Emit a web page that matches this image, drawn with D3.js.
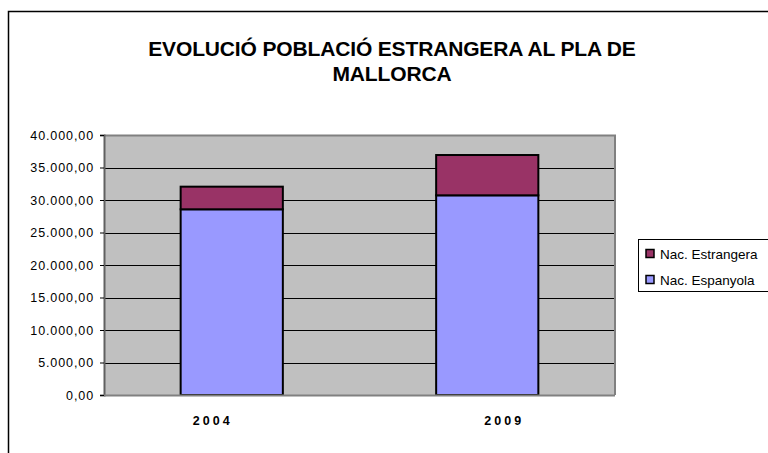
<!DOCTYPE html>
<html>
<head>
<meta charset="utf-8">
<script src="https://cdn.jsdelivr.net/npm/d3@7"></script>
<style>
  body { margin: 0; background: #fff; }
  svg { display: block; font-family: "Liberation Sans", Arial, sans-serif; }
</style>
</head>
<body>
<svg id="chart" width="768" height="453"></svg>
<script>
// data
const years = ["2004", "2009"];
const espanyola = [28570, 30720];
const estrangera = [3480, 6200];
const seriesNames = ["Nac. Espanyola", "Nac. Estrangera"];
const seriesColors = ["#9999ff", "#993366"];
const yTicks = [0, 5000, 10000, 15000, 20000, 25000, 30000, 35000, 40000];
const titleLines = ["EVOLUCIÓ POBLACIÓ ESTRANGERA AL PLA DE", "MALLORCA"];

const svg = d3.select("#chart");
const width = +svg.attr("width");
const height = +svg.attr("height");

// outer chart frame (runs off the right and bottom edges)
svg.append("rect")
  .attr("x", 8.5).attr("y", 11.5)
  .attr("width", width + 10).attr("height", height + 10)
  .attr("fill", "#fff")
  .attr("stroke", "#000")
  .attr("stroke-width", 1.5);

// title
svg.append("g")
  .selectAll("text")
  .data(titleLines)
  .join("text")
  .attr("x", 392)
  .attr("y", (d, i) => 56 + i * 24.5)
  .attr("text-anchor", "middle")
  .attr("font-size", 21)
  .attr("font-weight", "bold")
  .attr("letter-spacing", -0.15)
  .text(d => d);

const plot = { left: 104, top: 135, right: 615, bottom: 395 };

const x = d3.scaleBand()
  .domain(years)
  .range([plot.left, plot.right])
  .paddingInner(0.6)
  .paddingOuter(0.3);

const y = d3.scaleLinear()
  .domain([0, 40000])
  .range([plot.bottom, plot.top]);

// plot area
svg.append("rect")
  .attr("x", plot.left).attr("y", plot.top)
  .attr("width", plot.right - plot.left)
  .attr("height", plot.bottom - plot.top)
  .attr("fill", "#c0c0c0");

// gridlines
svg.append("g")
  .selectAll("line")
  .data(yTicks.filter(d => d > 0 && d < 40000))
  .join("line")
  .attr("x1", plot.left).attr("x2", plot.right)
  .attr("y1", d => Math.round(y(d)) + 0.5)
  .attr("y2", d => Math.round(y(d)) + 0.5)
  .attr("stroke", "#000")
  .attr("stroke-width", 1);

// frame top and right
svg.append("path")
  .attr("d", `M${plot.left},${plot.top + 0.5}H${plot.right}V${plot.bottom}`)
  .attr("fill", "none")
  .attr("stroke", "#808080")
  .attr("stroke-width", 2);

// stacked bars
const rows = years.map((yr, i) => ({ year: yr, "Nac. Espanyola": espanyola[i], "Nac. Estrangera": estrangera[i] }));
const stacked = d3.stack().keys(seriesNames)(rows);

svg.append("g")
  .selectAll("g")
  .data(stacked)
  .join("g")
  .attr("fill", (d, i) => seriesColors[i])
  .selectAll("rect")
  .data(d => d)
  .join("rect")
  .attr("x", d => x(d.data.year))
  .attr("y", d => y(d[1]))
  .attr("width", x.bandwidth())
  .attr("height", d => y(d[0]) - y(d[1]))
  .attr("stroke", "#000")
  .attr("stroke-width", 2);

// y axis
const yAxis = svg.append("g")
  .attr("transform", `translate(${plot.left},0)`)
  .call(d3.axisLeft(y)
    .tickValues(yTicks)
    .tickSize(4)
    .tickFormat(d => d3.format(",.2f")(d).replace(/,/g, "#").replace(".", ",").replace(/#/g, ".")));
yAxis.select(".domain").attr("stroke", "#606060").attr("stroke-width", 2);
yAxis.selectAll(".tick line").attr("stroke", "#000");
yAxis.selectAll(".tick text")
  .attr("x", -10)
  .attr("font-size", 12.5)
  .attr("letter-spacing", 0.9)
  .attr("font-family", "Liberation Sans, Arial, sans-serif")
  .attr("fill", "#000");

// x axis line
svg.append("line")
  .attr("x1", plot.left).attr("x2", plot.right)
  .attr("y1", plot.bottom + 0.5).attr("y2", plot.bottom + 0.5)
  .attr("stroke", "#808080")
  .attr("stroke-width", 2);

// year labels (Excel places them slightly off the bar centres)
const labelShift = [-19, 17];
svg.append("g")
  .selectAll("text")
  .data(years)
  .join("text")
  .attr("x", (d, i) => x(d) + x.bandwidth() / 2 + labelShift[i])
  .attr("y", 425)
  .attr("text-anchor", "middle")
  .attr("font-size", 12.5)
  .attr("font-weight", "bold")
  .attr("letter-spacing", 3)
  .text(d => d);

// legend
const legend = svg.append("g");
legend.append("rect")
  .attr("x", 638.5).attr("y", 239.5)
  .attr("width", 140).attr("height", 52)
  .attr("fill", "#fff")
  .attr("stroke", "#000")
  .attr("stroke-width", 1);

const legendItems = legend.selectAll("g")
  .data([1, 0])
  .join("g")
  .attr("transform", (d, i) => `translate(646,${254 + i * 26})`);
legendItems.append("rect")
  .attr("x", 0).attr("y", -4.5)
  .attr("width", 8).attr("height", 8)
  .attr("fill", d => seriesColors[d])
  .attr("stroke", "#000")
  .attr("stroke-width", 1.5);
legendItems.append("text")
  .attr("x", 14)
  .attr("y", 5)
  .attr("font-size", 13.5)
  .text(d => seriesNames[d]);
</script>
</body>
</html>
